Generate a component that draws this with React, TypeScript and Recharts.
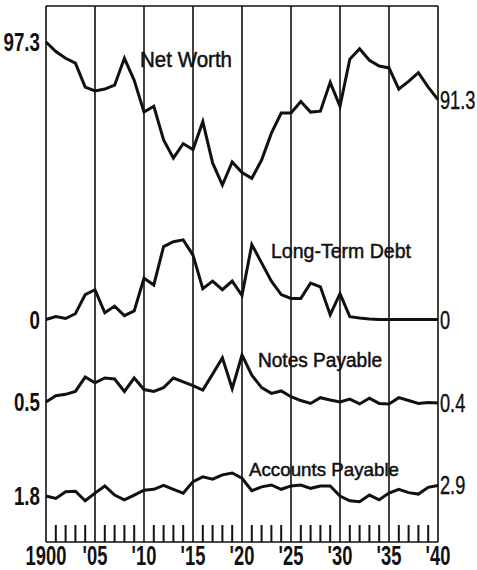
import { ComposedChart, Line, ReferenceLine, XAxis, YAxis } from "recharts";

// years 1900–1940, one point per year
const years = [
  1900, 1901, 1902, 1903, 1904, 1905, 1906, 1907, 1908, 1909,
  1910, 1911, 1912, 1913, 1914, 1915, 1916, 1917, 1918, 1919,
  1920, 1921, 1922, 1923, 1924, 1925, 1926, 1927, 1928, 1929,
  1930, 1931, 1932, 1933, 1934, 1935, 1936, 1937, 1938, 1939, 1940,
];

const netWorth = [
  97.3, 96.3, 95.6, 95.1, 92.6, 92.2, 92.4, 92.8, 95.6, 93.3,
  90.0, 90.6, 87.1, 85.2, 86.7, 86.1, 89.0, 84.7, 82.4, 84.8,
  83.7, 83.1, 85.0, 87.8, 89.9, 89.9, 91.1, 90.0, 90.1, 93.1,
  90.6, 95.5, 96.6, 95.4, 94.8, 94.6, 92.4, 93.2, 94.1, 92.6, 91.3,
];

const longTermDebt = [
  0, 0.3, 0.1, 0.6, 2.6, 3.1, 0.7, 1.4, 0.4, 0.9,
  4.3, 3.6, 7.6, 8.1, 8.3, 6.7, 3.2, 4.0, 3.1, 4.0,
  2.5, 7.8, 5.9, 4.0, 2.6, 2.2, 2.2, 3.8, 3.4, 0.5,
  2.7, 0.3, 0.15, 0.05, 0, 0, 0, 0, 0, 0, 0,
];

const notesPayable = [
  0.5, 1.15, 1.3, 1.6, 3.1, 2.5, 3.0, 2.9, 1.6, 3.0,
  1.8, 1.6, 2.0, 3.0, 2.6, 2.2, 1.75, 3.4, 5.1, 1.9,
  5.4, 3.3, 2.0, 1.4, 1.65, 1.05, 0.65, 0.35, 0.95, 0.7,
  0.5, 0.8, 0.3, 0.9, 0.35, 0.3, 0.95, 0.65, 0.35, 0.45, 0.4,
];

const accountsPayable = [
  1.8, 1.55, 2.25, 2.3, 1.3, 2.1, 2.85, 1.9, 1.4, 1.9,
  2.4, 2.5, 2.9, 2.5, 2.1, 3.3, 3.8, 3.55, 4.0, 4.2,
  3.65, 2.35, 2.75, 2.95, 2.5, 2.85, 2.95, 2.6, 2.85, 2.85,
  1.8, 1.3, 1.2, 1.9, 1.4, 2.1, 2.5, 2.15, 2.0, 2.7, 2.9,
];

const majorYears = [1900, 1905, 1910, 1915, 1920, 1925, 1930, 1935, 1940];
const majorLabels = ["1900", "'05", "'10", "'15", "'20", "'25", "'30", "'35", "'40"];
const minorYears = [
  1901, 1902, 1903, 1904, 1906, 1907, 1908, 1909,
  1911, 1912, 1913, 1914, 1916, 1917, 1918, 1919,
  1921, 1922, 1923, 1924, 1926, 1927, 1928, 1929,
  1931, 1932, 1933, 1934, 1936, 1937, 1938, 1939,
];

const seriesNames = ["Net Worth", "Long-Term Debt", "Notes Payable", "Accounts Payable"];

const data = years.map((year, i) => ({
  year,
  netWorth: netWorth[i],
  longTermDebt: longTermDebt[i],
  notesPayable: notesPayable[i],
  accountsPayable: accountsPayable[i],
}));

const INK = "#111";
const FONT = "'Liberation Sans', Arial, sans-serif";

// every strip shares one vertical scale; each is anchored so a value sits at a given pixel row
const W = 477;
const H = 570;
const PLOT_LEFT = 46;
const PLOT_RIGHT = 438;
const PLOT_TOP = 6;
const PLOT_BOTTOM = 542;
const PX_PER_UNIT = 9.6;
const TICK_LEN = 17;
const X_MIN = 1900;
const X_MAX = 1940;

const domainAt = (value: number, y: number): [number, number] => {
  const top = value + (y - PLOT_TOP) / PX_PER_UNIT;
  return [top - (PLOT_BOTTOM - PLOT_TOP) / PX_PER_UNIT, top];
};

// same linear mapping as the chart's x axis, used for the short yearly ticks
const xOf = (year: number) => PLOT_LEFT + ((year - X_MIN) / (X_MAX - X_MIN)) * (PLOT_RIGHT - PLOT_LEFT);

const netWorthDomain = domainAt(97.3, 42);
const last = years.length - 1;

const endLabels = (props: any) => {
  const { cx, cy, index, value } = props;
  if (index === 0) {
    return (
      <g key={`l${index}`} transform={`translate(${cx - 6},${cy + 9}) scale(0.75,1)`}>
        <text textAnchor="end" fontFamily={FONT} fontWeight="bold" fontSize={25} fill={INK}>
          {String(value)}
        </text>
      </g>
    );
  }
  if (index === last) {
    return (
      <g key={`r${index}`} transform={`translate(${cx + 2},${cy + 9}) scale(0.7,1)`}>
        <text textAnchor="start" fontFamily={FONT} fontSize={26} fill={INK} stroke={INK} strokeWidth={0.4}>
          {String(value)}
        </text>
      </g>
    );
  }
  return <g key={`n${index}`} />;
};

const YearTick = (props: any) => {
  const { x, y, payload } = props;
  const k = majorYears.indexOf(payload.value);
  if (k < 0) return <g />;
  return (
    <g transform={`translate(${x},${y + 23}) scale(0.68,1)`}>
      <text textAnchor="middle" fontFamily={FONT} fontWeight="bold" fontSize={27} fill={INK}>
        {majorLabels[k]}
      </text>
    </g>
  );
};

const lineProps = {
  type: "linear" as const,
  stroke: INK,
  strokeWidth: 3,
  dot: endLabels,
  activeDot: false,
  isAnimationActive: false,
};

export default function App() {
  return (
    <div style={{ position: "absolute", left: 0, top: 0, width: W, height: H, background: "#fff" }}>
      <ComposedChart
        width={W}
        height={H}
        data={data}
        margin={{ top: PLOT_TOP, right: W - PLOT_RIGHT, bottom: 0, left: PLOT_LEFT }}
      >
        <XAxis
          dataKey="year"
          type="number"
          domain={[X_MIN, X_MAX]}
          ticks={majorYears}
          interval={0}
          minTickGap={0}
          height={H - PLOT_BOTTOM}
          tickSize={0}
          tickMargin={0}
          tickLine={false}
          axisLine={{ stroke: INK, strokeWidth: 1.6 }}
          tick={<YearTick />}
        />
        <YAxis hide domain={netWorthDomain} />
        <YAxis hide yAxisId="ltd" domain={domainAt(0, 319.5)} />
        <YAxis hide yAxisId="np" domain={domainAt(0.5, 402)} />
        <YAxis hide yAxisId="ap" domain={domainAt(1.8, 496)} />

        {/* frame top and five-year rules */}
        <ReferenceLine y={netWorthDomain[1]} stroke={INK} strokeWidth={1.6} />
        {majorYears.map((yr) => (
          <ReferenceLine key={yr} x={yr} stroke={INK} strokeWidth={1.6} />
        ))}

        <Line dataKey="netWorth" {...lineProps} />
        <Line dataKey="longTermDebt" yAxisId="ltd" {...lineProps} />
        <Line dataKey="notesPayable" yAxisId="np" {...lineProps} />
        <Line dataKey="accountsPayable" yAxisId="ap" {...lineProps} />
      </ComposedChart>

      <svg
        width={W}
        height={H}
        style={{ position: "absolute", left: 0, top: 0, pointerEvents: "none" }}
      >
        <g fill={INK}>
          {minorYears.map((yr) => (
            <rect key={yr} x={xOf(yr) - 1} y={PLOT_BOTTOM - TICK_LEN} width={2} height={TICK_LEN} />
          ))}
        </g>
        <g fontFamily={FONT} fill={INK} stroke={INK} strokeWidth={0.5}>
          <text x={140} y={67} fontSize={22} textLength={92} lengthAdjust="spacingAndGlyphs">
            {seriesNames[0]}
          </text>
          <text x={271} y={257.5} fontSize={21} textLength={140} lengthAdjust="spacingAndGlyphs">
            {seriesNames[1]}
          </text>
          <text x={258} y={366.5} fontSize={19.5} textLength={124} lengthAdjust="spacingAndGlyphs">
            {seriesNames[2]}
          </text>
          <text x={249} y={476} fontSize={18.5} textLength={150} lengthAdjust="spacingAndGlyphs">
            {seriesNames[3]}
          </text>
        </g>
      </svg>
    </div>
  );
}
